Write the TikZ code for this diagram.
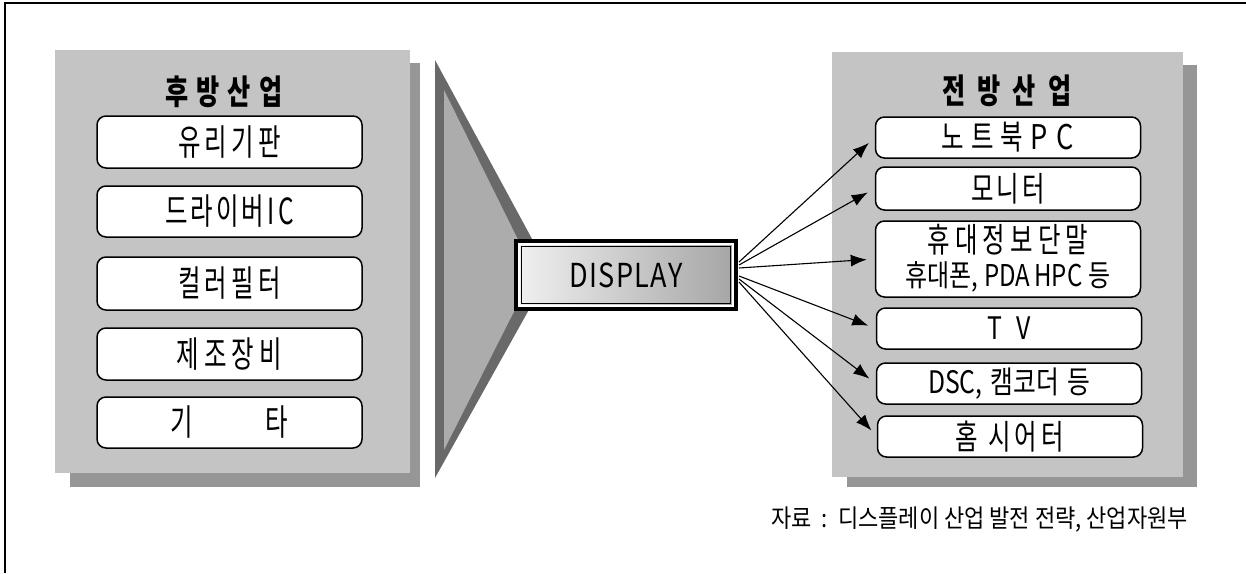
\documentclass[tikz,border=0pt]{standalone}
\usepackage{fontspec}
\setmainfont{Noto Sans CJK KR}
\newfontfamily\krL[FakeStretch=0.68]{Noto Sans CJK KR}
\newfontfamily\krR[FakeStretch=0.72]{Noto Sans CJK KR}
\newfontfamily\krS[FakeStretch=0.80]{Noto Sans CJK KR}
\newfontfamily\krF[FakeStretch=0.88]{Noto Sans CJK KR}
\newfontfamily\krH[FakeStretch=0.74]{Noto Sans CJK KR}
\newfontfamily\krW[FakeStretch=0.82,LetterSpace=4]{Noto Sans CJK KR}
\usetikzlibrary{arrows.meta}
\definecolor{panelgray}{RGB}{196,196,196}
\definecolor{shadowgray}{RGB}{150,150,150}
\definecolor{tridark}{RGB}{105,105,105}
\definecolor{trilight}{RGB}{172,172,172}
\definecolor{displight}{RGB}{240,240,240}
\definecolor{dispdark}{RGB}{165,165,165}
\newcommand\gap[1]{\hspace{#1pt}}
\tikzset{
  panelback/.style={fill=panelgray},
  panelshadow/.style={fill=shadowgray},
  item/.style={draw=black, line width=1.5pt, rounded corners=9pt, fill=white,
    minimum width=265pt, inner sep=0pt, text=black},
  lefttext/.style={font=\krL\fontsize{36}{38}\selectfont},
  righttext/.style={font=\krR\fontsize{34}{36}\selectfont, align=center},
  headtext/.style={font=\krH\bfseries\fontsize{34}{36}\selectfont},
  link/.style={-{Latex[length=16pt,width=12pt]}, line width=1.1pt, shorten >=8pt},
}
\begin{document}
\begin{tikzpicture}[x=1pt,y=-1pt]
\useasboundingbox (0,0) rectangle (1246,573);
% page frame (top and left rules)
\draw[line width=1.8pt] (5,573) -- (5,3) -- (1246,3);

% back-end industries panel with its drop shadow
\fill[panelshadow] (70,63) rectangle (420,487);
\fill[panelback] (55,50) rectangle (410,473);
% front-end industries panel with its drop shadow
\fill[panelshadow] (847,65) rectangle (1197,487);
\fill[panelback] (832,52) rectangle (1183,477);

% funnel triangle feeding the display box
\fill[tridark] (435,60) -- (550,272) -- (435,478) -- cycle;
\fill[trilight] (444,90) -- (534,272) -- (444,450) -- cycle;

% left column
\node[headtext] (lt) at (224,92) {후\gap{8}방\gap{8}산\gap{8}업};
\node[item, lefttext, minimum height=52pt] (l1) at (229.5,142) {유\gap{4}리\gap{4}기\gap{4}판};
\node[item, lefttext, minimum height=51pt] (l2) at (229.5,211.5) {드\gap{3}라\gap{3}이\gap{3}버\gap{3}I\gap{4}C};
\node[item, lefttext, minimum height=53pt] (l3) at (229.5,283.5) {컬\gap{4}러\gap{4}필\gap{4}터};
\node[item, lefttext, minimum height=52pt] (l4) at (229.5,354) {제\gap{5}조\gap{5}장\gap{5}비};
\node[item, lefttext, minimum height=51pt] (l5) at (229.5,422.5) {기\gap{72}타};

% central display box
\node[draw=black, line width=4.5pt, left color=displight, right color=dispdark,
      minimum width=219pt, minimum height=67pt, inner sep=0pt,
      font=\krW\fontsize{33}{35}\selectfont] (D) at (626,275) {DISPLAY};
\draw[white, line width=1.8pt] ([shift={(4.5,4.5)}]D.north west) rectangle ([shift={(-4.5,-4.5)}]D.south east);
\draw[black, line width=1.1pt] ([shift={(7,7)}]D.north west) rectangle ([shift={(-7,-7)}]D.south east);

% right column
\node[headtext] (rt) at (1007,91) {전\gap{12}방\gap{12}산\gap{12}업};
\node[item, righttext, minimum height=41pt] (r1) at (1008,137.5) {노\gap{7}트\gap{7}북\gap{7}{\krS P\gap{9}C}};
\node[item, righttext, minimum height=43pt] (r2) at (1008,188.5) {모\gap{3}니\gap{3}터};
\node[item, minimum width=265pt, minimum height=76pt] (r3) at (1008,259) {};
\node[righttext] (r3a) at (1008,240) {휴\gap{5}대\gap{5}정\gap{5}보\gap{5}단\gap{5}말};
\node[font=\krS\fontsize{30}{32}\selectfont] (r3b) at (1008,277) {휴대폰,\gap{6}PDA\gap{4}HPC\gap{6}등};
\node[item, font=\krS\fontsize{31}{33}\selectfont, minimum height=41pt] (r4) at (1009,328.5) {T\gap{14}V};
\node[item, font=\krS\fontsize{31}{33}\selectfont, minimum height=41pt] (r5) at (1009,383.5) {DSC,\gap{8}캠코더\gap{8}등};
\node[item, righttext, minimum height=41pt] (r6) at (1010,436.5) {홈\gap{10}시\gap{4}어\gap{4}터};

% fan of arrows from the display box
\coordinate (s1) at (739,262);
\coordinate (s2) at (739,265);
\coordinate (s3) at (739,268);
\coordinate (s4) at (739,276);
\coordinate (s5) at (739,279);
\coordinate (s6) at (739,282);
\draw[link] (s1) -- (r1.west);
\draw[link] (s2) -- (r2.west);
\draw[link] (s3) -- (r3.west);
\draw[link] (s4) -- (r4.west);
\draw[link] (s5) -- (r5.west);
\draw[link] (s6) -- (r6.west);

% source note
\node[anchor=east, font=\krF\fontsize{25}{27}\selectfont, inner sep=0pt] (src) at (1188,520)
  {자료\gap{10}:\gap{10}디스플레이 산업 발전 전략,\gap{5}산업자원부};
\end{tikzpicture}
\end{document}
